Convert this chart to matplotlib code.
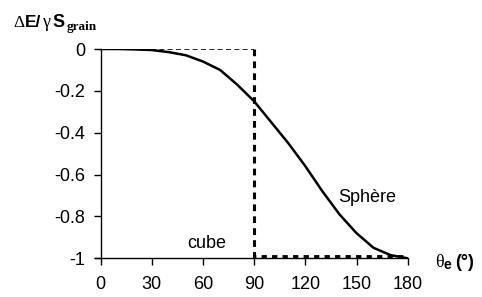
import matplotlib
matplotlib.use("Agg")
import matplotlib.pyplot as plt

# sphere curve
theta = [0, 10, 20, 30, 40, 50, 60, 70, 80, 90, 100, 110, 120, 130, 140, 150, 160, 170, 180]
sphere = [0, 0, -0.002, -0.005, -0.015, -0.03, -0.06, -0.10, -0.17, -0.25, -0.35, -0.45,
          -0.56, -0.68, -0.79, -0.88, -0.95, -0.985, -1]
# cube step
cube_x = [0, 90, 90, 180]
cube_y = [0, 0, -1, -1]

xticks = [0, 30, 60, 90, 120, 150, 180]
yticks = [0, -0.2, -0.4, -0.6, -0.8, -1]
ylabels = ["0", "-0.2", "-0.4", "-0.6", "-0.8", "-1"]

plt.rcParams['font.family'] = ['Liberation Sans', 'DejaVu Sans']

W, H = 482, 297
fig = plt.figure(figsize=(W / 100, H / 100), dpi=100)
ax = fig.add_axes([94.7 / W, 1 - 258.3 / H, 313 / W, 209.3 / H])

ax.plot(cube_x[:2], cube_y[:2], color='black', lw=1.2, ls=(0, (3, 2)))
ax.plot(cube_x[1:3], cube_y[1:3], color='black', lw=2.2, ls=(0, (2.2, 1.7)))
# bottom run sits on the axis, half hidden under the clip
ax.plot(cube_x[2:], cube_y[2:], color='black', lw=4.2, ls=(0.5, (0.9, 0.9)))
ax.plot(theta, sphere, color='black', lw=1.8)

ax.set_xlim(-3.5, 180)
ax.set_ylim(-1, 0)
ax.set_xticks(xticks)
ax.set_yticks(yticks)
ax.set_yticklabels(ylabels)
for s in ['top', 'right']:
    ax.spines[s].set_visible(False)
ax.spines['left'].set_position(('data', 0))
ax.spines['left'].set_linewidth(1)
ax.spines['bottom'].set_linewidth(1)
ax.tick_params(direction='out', length=5, width=1, labelsize=13)
ax.tick_params(axis='x', pad=8)
ax.tick_params(axis='y', pad=6)

ax.text(139.5, -0.731, "Sphère", fontsize=13)
ax.text(50.6, -0.951, "cube", fontsize=13)

# y label at the top left
def put(x, y, s, **kw):
    fig.text(x / W, 1 - y / H, s, va='baseline', **kw)

put(13, 27, "Δ", fontsize=12.5, family='Liberation Serif')
put(25, 27, "E/", fontsize=12.5, fontweight='bold')
put(42, 27, "γ", fontsize=13, family='Liberation Serif')
put(52, 27, "S", fontsize=13, fontweight='bold')
put(67, 30, "grain", fontsize=9.5, fontweight='bold', family='Liberation Serif')

# x label at the end of the axis
put(435, 267, "θ", fontsize=13, family='Liberation Serif')
put(444, 269, "e", fontsize=10, fontweight='bold')
put(455, 267, "(°)", fontsize=13, fontweight='bold')

fig.savefig("out.png", dpi=100)
